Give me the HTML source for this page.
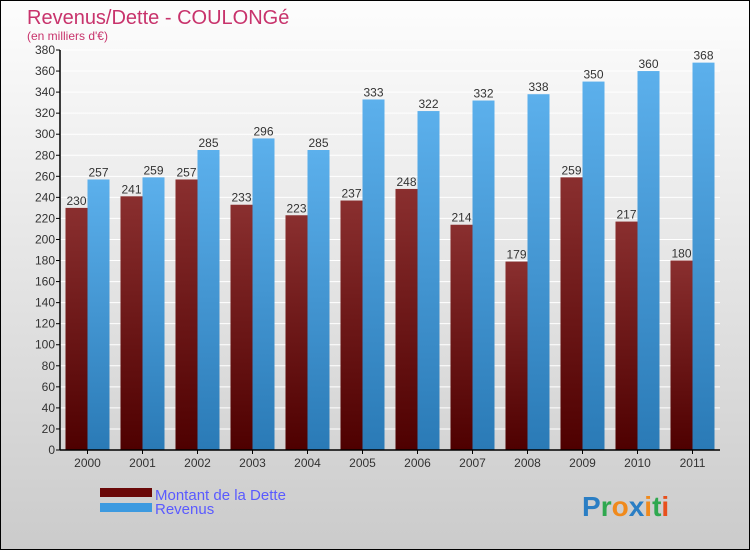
<!DOCTYPE html>
<html><head><meta charset="utf-8"><style>
body{margin:0;font-family:"Liberation Sans",sans-serif}
</style></head><body>
<svg width="750" height="550" viewBox="0 0 750 550" xmlns="http://www.w3.org/2000/svg">
<defs>
<linearGradient id="bg" x1="0" y1="0" x2="0" y2="1"><stop offset="0" stop-color="#fdfdfd"/><stop offset="1" stop-color="#cbcbcb"/></linearGradient>
<linearGradient id="gd" x1="0" y1="0" x2="0" y2="1"><stop offset="0" stop-color="#8a2f2f"/><stop offset="1" stop-color="#4e0000"/></linearGradient>
<linearGradient id="gr" x1="0" y1="0" x2="0" y2="1"><stop offset="0" stop-color="#5cb0ec"/><stop offset="1" stop-color="#2a7ab6"/></linearGradient>
</defs>
<rect x="0.5" y="0.5" width="749" height="549" fill="url(#bg)" stroke="#000"/>
<text x="27" y="24" font-size="20" fill="#c8336c">Revenus/Dette - COULONGé</text>
<text x="27" y="40" font-size="12" fill="#c8336c">(en milliers d'€)</text>
<g id="grid"></g><g id="bars"></g><g id="axes"></g>
<rect x="100" y="488" width="52" height="9" fill="#6a0808"/>
<rect x="100" y="503" width="52" height="9" fill="#3c9ae0"/>
<text x="155" y="500" font-size="15" fill="#5a5aff">Montant de la Dette</text>
<text x="155" y="514" font-size="15" fill="#5a5aff">Revenus</text>
<text x="582" y="516" font-size="28" font-weight="bold"><tspan fill="#2a7ec4">P</tspan><tspan fill="#2fa84f">r</tspan><tspan fill="#f08a1c">o</tspan><tspan fill="#2a7ec4">x</tspan><tspan fill="#f08a1c">i</tspan><tspan fill="#2fa84f">t</tspan><tspan fill="#e8501c">i</tspan></text>
</svg>
<script>
const years=["2000","2001","2002","2003","2004","2005","2006","2007","2008","2009","2010","2011"];
const debt=[230,241,257,233,223,237,248,214,179,259,217,180];
const revenue=[257,259,285,296,285,333,322,332,338,350,360,368];
const yTicks=[0,20,40,60,80,100,120,140,160,180,200,220,240,260,280,300,320,340,360,380];
const NS="http://www.w3.org/2000/svg";
const x0=60,x1=720,y0=450,yTop=50,maxV=380;
const gw=(x1-x0)/years.length;
const y=v=>y0-(v/maxV)*(y0-yTop);
function mk(t,a,p){const e=document.createElementNS(NS,t);for(const k in a)e.setAttribute(k,a[k]);p.appendChild(e);return e;}
const grid=document.getElementById('grid'),bars=document.getElementById('bars'),axes=document.getElementById('axes');
yTicks.forEach(v=>{
 const l=mk('line',{x1:x0,x2:x1,y1:y(v),y2:y(v),stroke:'#fff','stroke-width':1},grid);
 
 
 const tk=mk('line',{x1:x0-4,x2:x0,y1:y(v),y2:y(v),stroke:'#000'},axes);
 
 
 const t=mk('text',{x:x0-5,y:y(v)+4,'font-size':12,fill:'#333','text-anchor':'end'},axes);
 t.textContent=v;
 
 
});
years.forEach((yr,i)=>{
 const gx=x0+i*gw+5.5;
 const b1=mk('rect',{x:gx,y:y(debt[i]),width:22,height:y0-y(debt[i]),fill:'url(#gd)'},bars);
 
 
 const b2=mk('rect',{x:gx+22,y:y(revenue[i]),width:22,height:y0-y(revenue[i]),fill:'url(#gr)'},bars);
 
 
 const t1=mk('text',{x:gx+11,y:y(debt[i])-3,'font-size':12,fill:'#333','text-anchor':'middle'},bars);
 t1.textContent=debt[i];
 
 
 const t2=mk('text',{x:gx+33,y:y(revenue[i])-3,'font-size':12,fill:'#333','text-anchor':'middle'},bars);
 t2.textContent=revenue[i];
 
 
 const tk=mk('line',{x1:gx+22,x2:gx+22,y1:y0,y2:y0+4,stroke:'#000'},axes);
 
 
 const xl=mk('text',{x:gx+22,y:y0+17,'font-size':12,fill:'#333','text-anchor':'middle'},axes);
 xl.textContent=yr;
 
 
});
const ya=mk('line',{x1:x0,x2:x0,y1:yTop,y2:y0,stroke:'#000','stroke-width':1.5},axes);


const xa=mk('line',{x1:x0,x2:x1,y1:y0,y2:y0,stroke:'#000','stroke-width':1.5},axes);


</script>
</body></html>
